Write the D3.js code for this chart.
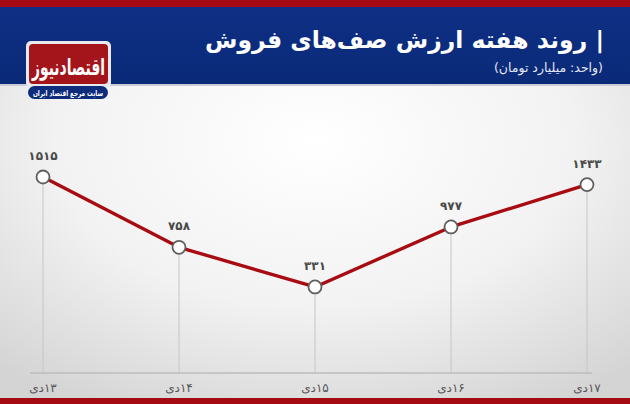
<!DOCTYPE html>
<html><head><meta charset="utf-8">
<script src="https://cdn.jsdelivr.net/npm/d3@7/dist/d3.min.js"></script>
<style>
html,body{margin:0;padding:0;background:#fff;}
svg{display:block;}
text{font-family:"DejaVu Sans",sans-serif;}
</style></head>
<body>
<script>
const categories = ["۱۳دی","۱۴دی","۱۵دی","۱۶دی","۱۷دی"];
const values = [1515, 758, 331, 977, 1433];
const valueLabels = ["۱۵۱۵","۷۵۸","۳۳۱","۹۷۷","۱۴۳۳"];
const title = "| روند هفته ارزش صف‌های فروش";
const subtitle = "(واحد: میلیارد تومان)";

const W = 630, H = 404;
const svg = d3.select("body").append("svg").attr("width", W).attr("height", H);
const defs = svg.append("defs");

const bg = defs.append("radialGradient").attr("id","bg").attr("cx","50%").attr("cy","35%").attr("r","75%");
bg.append("stop").attr("offset","0%").attr("stop-color","#ffffff");
bg.append("stop").attr("offset","55%").attr("stop-color","#f2f2f2");
bg.append("stop").attr("offset","100%").attr("stop-color","#d4d4d4");
const hb = defs.append("linearGradient").attr("id","hb").attr("x1","0").attr("y1","0").attr("x2","0").attr("y2","1");
hb.append("stop").attr("offset","0%").attr("stop-color","#0e2f84");
hb.append("stop").attr("offset","100%").attr("stop-color","#0a2a78");

svg.append("rect").attr("x",0).attr("y",0).attr("width",W).attr("height",H).attr("fill","url(#bg)");
// header
svg.append("rect").attr("x",0).attr("y",0).attr("width",W).attr("height",7).attr("fill","#a50a12");
svg.append("rect").attr("x",0).attr("y",7).attr("width",W).attr("height",77).attr("fill","url(#hb)");
svg.append("rect").attr("x",0).attr("y",84).attr("width",W).attr("height",2).attr("fill","#c9ccd4");
// bottom strip
svg.append("rect").attr("x",0).attr("y",398).attr("width",W).attr("height",6).attr("fill","#a50a12");

svg.append("text").attr("x",604).attr("y",48).attr("text-anchor","start").attr("direction","rtl")
  .attr("fill","#fff").attr("font-size",23.5).attr("font-weight","bold").text(title);
svg.append("text").attr("x",603).attr("y",72).attr("text-anchor","start").attr("direction","rtl")
  .attr("fill","#e3e8f2").attr("font-size",12.5).text(subtitle);

// logo
svg.append("rect").attr("x",26).attr("y",41).attr("width",85).attr("height",47).attr("rx",5).attr("fill","#e9e9ee");
svg.append("rect").attr("x",29).attr("y",44).attr("width",79).attr("height",40).attr("rx",4).attr("fill","#a3141b");
svg.append("text").attr("x",32).attr("y",75).attr("direction","ltr")
  .attr("textLength",73).attr("lengthAdjust","spacingAndGlyphs")
  .attr("fill","#fff").attr("font-size",23).attr("font-weight","bold").text("اقتصادنیوز");
svg.append("rect").attr("x",28).attr("y",86).attr("width",80).attr("height",13).attr("rx",6.5).attr("fill","#0d2c7c");
svg.append("text").attr("x",33).attr("y",96).attr("direction","ltr")
  .attr("textLength",70).attr("lengthAdjust","spacingAndGlyphs")
  .attr("fill","#fff").attr("font-size",8).attr("font-weight","bold").text("سایت مرجع اقتصاد ایران");

// scales
const x = d3.scalePoint().domain(categories).range([43, 587]);
const y = d3.scaleLinear().domain([0, 1600]).range([317.7, 169.1]);
const baseY = 373;

// baseline
svg.append("line").attr("x1",30).attr("x2",592).attr("y1",baseY).attr("y2",baseY)
  .attr("stroke","#bdbdbd").attr("stroke-width",1.5);

const data = categories.map((c,i)=>({c, v:values[i], l:valueLabels[i]}));

svg.selectAll(".drop").data(data).enter().append("line")
  .attr("x1",d=>x(d.c)).attr("x2",d=>x(d.c)).attr("y1",d=>y(d.v)).attr("y2",baseY)
  .attr("stroke","#c6c6c6").attr("stroke-width",1);

svg.append("path").datum(data)
  .attr("d", d3.line().x(d=>x(d.c)).y(d=>y(d.v)))
  .attr("fill","none").attr("stroke","#a80c12").attr("stroke-width",3.4).attr("stroke-linejoin","round");

svg.selectAll(".pt").data(data).enter().append("circle")
  .attr("cx",d=>x(d.c)).attr("cy",d=>y(d.v)).attr("r",6.5)
  .attr("fill","#fff").attr("stroke","#5f5f5f").attr("stroke-width",1.8);

svg.selectAll(".vl").data(data).enter().append("text")
  .attr("x",d=>x(d.c)).attr("y",d=>y(d.v)-17).attr("text-anchor","middle")
  .attr("fill","#4a4a4a").attr("font-size",12).attr("font-weight","bold").text(d=>d.l);

svg.selectAll(".xl").data(data).enter().append("text")
  .attr("x",d=>x(d.c)).attr("y",392).attr("text-anchor","middle").attr("direction","rtl")
  .attr("fill","#555").attr("font-size",12).text(d=>d.c);
</script>
</body></html>
